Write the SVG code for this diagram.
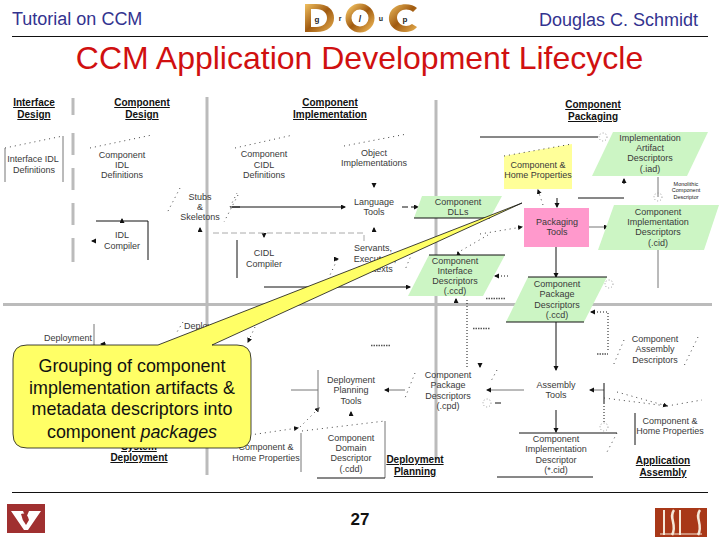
<svg xmlns="http://www.w3.org/2000/svg" width="720" height="540" viewBox="0 0 720 540">
<defs>
<style>
text{font-family:"Liberation Sans",Arial,sans-serif}
.n{font-size:9px;fill:#3a3a3a;text-anchor:middle}
.h{font-size:10px;font-weight:bold;fill:#111;text-anchor:middle;text-decoration:underline}
.g{fill:#ccf5c4;stroke:none}
.k{stroke:#111;stroke-width:1;fill:none}
.lg{stroke:#777;stroke-width:1;fill:none}
.d{stroke:#444;stroke-width:1;stroke-dasharray:1 4;fill:none}
.dk{stroke:#111;stroke-width:1;stroke-dasharray:1 2;fill:none}
.sep{stroke:#bbb;stroke-width:3;fill:none}
.c{stroke:#999;stroke-width:1;stroke-dasharray:1 2;fill:none}
.sm{stroke:#555;stroke-width:1.500;stroke-dasharray:1.500 1;fill:none}
</style>
<linearGradient id="gold" x1="0" y1="0" x2="1" y2="1">
<stop offset="0" stop-color="#f0c060"/><stop offset=".5" stop-color="#a05a10"/><stop offset="1" stop-color="#e8b050"/>
</linearGradient>
<marker id="a" markerWidth="6" markerHeight="6" refX="4" refY="2.500" orient="auto"><path d="M0 0L5 2.500L0 5z" fill="#111"/></marker>
</defs>
<rect width="720" height="540" fill="#fff"/>
<g id="header">
<text x="12" y="25" font-size="18" fill="#33338f">Tutorial on CCM</text>
<text x="698" y="26" font-size="18" fill="#33338f" text-anchor="end">Douglas C. Schmidt</text>
<path d="M12 36.500H708" stroke="#111" stroke-width="1"/>
<text x="359.500" y="69" font-size="32" fill="#d01010" text-anchor="middle">CCM Application Development Lifecycle</text>
</g>
<g id="logo">
<path d="M305 4H316C328 4 334 10 334 18C334 26 328 32 316 32H305Z" fill="url(#gold)"/>
<path d="M311 9H316C323 9 327 13 327 18C327 23 323 27 316 27H311Z" fill="#fff"/>
<circle cx="360" cy="18" r="11.500" fill="none" stroke="url(#gold)" stroke-width="6"/>
<path d="M417 8C412 3 397 2 391 11C386 19 390 31 404 32C410 32 415 30 417 27L412 24C407 28 398 26 397 18C397 10 407 7 413 12Z" fill="url(#gold)"/>
<text x="317" y="22" font-size="8" font-weight="bold" fill="#222" text-anchor="middle">g</text>
<text x="340" y="21" font-size="7" font-weight="bold" fill="#222" text-anchor="middle">r</text>
<text x="360" y="22" font-size="9" font-weight="bold" fill="#222" text-anchor="middle">/</text>
<text x="381" y="21" font-size="7" font-weight="bold" fill="#222" text-anchor="middle">u</text>
<text x="405" y="22" font-size="8" font-weight="bold" fill="#222" text-anchor="middle">p</text>
</g>
<g id="dividers">
<path class="sep" d="M73 98V115M73 133V155M73 168V190M73 203V225M73 238V262"/>
<path class="sep" d="M207 97V475"/>
<path class="sep" d="M436 100V460"/>
<path class="sep" d="M3 304.500H712"/>
</g>
<g id="connectors">
<path class="k" d="M230 207H345" marker-end="url(#a)"/>
<path class="k" d="M232 207H240"/>
<path class="k" stroke-dasharray="6 3" d="M402 207H418" marker-end="url(#a)"/>
<path class="k" d="M264 287H410" marker-end="url(#a)"/>
<path class="k" d="M480 137H598"/>
<path class="k" d="M578 198H624"/>
<path class="k" d="M557 198V207" marker-end="url(#a)"/>
<path class="k" d="M624 184V179" marker-end="url(#a)"/>
<path class="lg" d="M658 177V197M658 250V288"/>
<path class="lg" d="M589 227H608" marker-end="url(#a)"/>
<path class="d" d="M480 234L522 227" marker-end="url(#a)"/>
<path class="d" d="M543 205L538 190" marker-end="url(#a)"/>
<path class="d" d="M457 253L488 235"/>
<path class="k" d="M459 258L458 252" marker-end="url(#a)"/>
<path class="dk" d="M508 276H495" marker-end="url(#a)"/>
<path class="k" d="M556 247V277" marker-end="url(#a)"/>
<path class="k" d="M556 322V370" marker-end="url(#a)"/>
<path class="dk" d="M608 350V312H591" marker-end="url(#a)"/>
<path class="dk" d="M467 300V368"/>
<path class="k" d="M456 303V299" marker-end="url(#a)"/>
<path class="k" d="M480 363V367" marker-end="url(#a)"/>
<path class="k" d="M556 410V432" marker-end="url(#a)"/>
<path class="lg" d="M524 390H487" marker-end="url(#a)"/>
<path class="lg" d="M604 390H590" marker-end="url(#a)"/>
<path class="k" d="M604 383V403"/>
<path class="dk" d="M604 403V423"/>
<path class="d" d="M604 398L667 406"/>
<path class="d" d="M617 392L667 406" marker-end="url(#a)"/>
<path class="d" d="M667 406L702 400"/>
<path class="k" d="M495 403H501"/>
<path class="lg" d="M405 390H385" marker-end="url(#a)"/>
<path class="lg" d="M291 390H318"/>
<path class="d" d="M300 427L319 408" marker-end="url(#a)"/>
<path class="d" d="M250 435L298 428" marker-end="url(#a)"/>
<path class="d" d="M255 327L248 342" marker-end="url(#a)"/>
<path class="d" d="M183 322L177 332"/>
<path class="k" d="M351 415V412" marker-end="url(#a)"/>
<path class="k" d="M122 221V219" marker-end="url(#a)"/>
<path class="k" d="M96 241H92" marker-end="url(#a)"/>
<path class="k" d="M200 231V228" marker-end="url(#a)"/>
<path class="k" d="M264 233V237" marker-end="url(#a)"/>
<path class="k" d="M374 183V187" marker-end="url(#a)"/>
<path class="k" d="M374 232V228" marker-end="url(#a)"/>
<path class="k" d="M335 259H338" marker-end="url(#a)"/>
<path class="d" d="M337 260L330 275M412 253L405 270M230 207L237 193"/>
<path class="k" d="M96 221H148V260"/>
<path class="k" d="M237 240V278"/>
<path stroke="#aaa" stroke-dasharray="6 3" fill="none" d="M213 233H364V242"/>
<path class="k" d="M106 344H101" marker-end="url(#a)"/>
<circle class="c" cx="603" cy="137" r="4"/><circle class="c" cx="658" cy="197" r="4"/><circle class="c" cx="609" cy="284" r="4"/><circle class="c" cx="487" cy="403" r="4"/><circle class="c" cx="604" cy="427" r="4"/>
</g>
<g id="interface-design"><text class="h" x="34" y="106">Interface</text><text class="h" x="34" y="118">Design</text></g>
<g id="component-design"><text class="h" x="142" y="106">Component</text><text class="h" x="142" y="118">Design</text></g>
<g id="component-impl"><text class="h" x="330" y="106">Component</text><text class="h" x="330" y="118">Implementation</text></g>
<g id="component-packaging"><text class="h" x="593" y="108">Component</text><text class="h" x="593" y="120">Packaging</text></g>
<g id="interface-idl">
<path class="d" d="M5 148L63 136"/><path class="lg" d="M5 148V182M63 136V182"/>
<text class="n" x="33" y="162">Interface IDL</text><text class="n" x="34" y="173">Definitions</text>
</g>
<g id="component-idl">
<path class="d" d="M90 148L152 135"/>
<text class="n" x="122" y="158">Component</text><text class="n" x="122" y="168">IDL</text><text class="n" x="122" y="178">Definitions</text>
</g>
<g id="stubs">
<path class="d" d="M180 188L167 213M238 195L224 222"/>
<text class="n" x="200" y="200">Stubs</text><text class="n" x="200" y="210">&amp;</text><text class="n" x="200" y="220">Skeletons</text>
</g>
<g id="idl-compiler">
<text class="n" x="122" y="238">IDL</text><text class="n" x="122" y="249">Compiler</text>
</g>
<g id="component-cidl">
<path class="d" d="M235 148L293 135"/>
<text class="n" x="264" y="157">Component</text><text class="n" x="264" y="168">CIDL</text><text class="n" x="264" y="178">Definitions</text>
</g>
<g id="object-impl">
<path class="d" d="M344 146L407 134"/>
<text class="n" x="374" y="156">Object</text><text class="n" x="374" y="166">Implementations</text>
</g>
<g id="language-tools"><text class="n" x="374" y="205">Language</text><text class="n" x="374" y="215">Tools</text></g>
<g id="cidl-compiler"><text class="n" x="264" y="256">CIDL</text><text class="n" x="264" y="267">Compiler</text></g>
<g id="servants"><text class="n" x="373" y="251">Servants,</text><text class="n" x="375" y="262">Executors,</text><text class="n" x="375" y="272">Contexts</text></g>
<g id="component-dlls">
<polygon class="g" points="422,196 502,196 490,218 414,218"/><path class="k" d="M414 218H490"/>
<text class="n" x="458" y="205">Component</text><text class="n" x="458" y="215">DLLs</text>
</g>
<g id="component-interface">
<polygon class="g" points="429,255 505,255 483,296 408,296"/><path class="k" d="M429 255H505"/>
<text class="n" x="455" y="264">Component</text><text class="n" x="455" y="274">Interface</text><text class="n" x="455" y="284">Descriptors</text><text class="n" x="455" y="294">(.ccd)</text>
</g>
<g id="impl-artifact">
<polygon class="g" points="613,132 708,132 687,176 592,176"/>
<text class="n" x="650" y="141">Implementation</text><text class="n" x="650" y="151">Artifact</text><text class="n" x="650" y="161">Descriptors</text><text class="n" x="650" y="172">(.iad)</text>
</g>
<g id="home-props">
<polygon points="504,156 572,144 572,189 504,189" fill="#ffff99"/>
<path class="d" d="M504 156L572 144"/>
<text class="n" x="538" y="168">Component &amp;</text><text class="n" x="538" y="178">Home Properties</text>
</g>
<g id="monolithic"><text x="686" y="186" font-size="5.500" fill="#222" text-anchor="middle">Monolithic</text><text x="686" y="192" font-size="5.500" fill="#222" text-anchor="middle">Component</text><text x="686" y="199" font-size="5.500" fill="#222" text-anchor="middle">Descriptor</text></g>
<g id="packaging-tools">
<rect x="524" y="208" width="65" height="39" fill="#ff99cc"/>
<text class="n" x="557" y="225">Packaging</text><text class="n" x="557" y="235">Tools</text>
</g>
<g id="component-impl-desc">
<polygon class="g" points="614,205 719,205 704,250 598,250"/>
<text class="n" x="658" y="215">Component</text><text class="n" x="658" y="225">Implementation</text><text class="n" x="658" y="235">Descriptors</text><text class="n" x="658" y="246">(.cid)</text>
</g>
<g id="package-desc">
<polygon class="g" points="528,277 607,277 584,322 506,322"/><path class="k" d="M528 277H607M506 322H584"/>
<text class="n" x="557" y="287">Component</text><text class="n" x="557" y="297">Package</text><text class="n" x="557" y="308">Descriptors</text><text class="n" x="557" y="318">(.ccd)</text>
</g>
<g id="assembly-desc">
<path class="d" d="M624 340L613 366M698 337L683 368"/>
<text class="n" x="655" y="342">Component</text><text class="n" x="655" y="352">Assembly</text><text class="n" x="655" y="363">Descriptors</text>
</g>
<g id="assembly-tools"><text class="n" x="556" y="388">Assembly</text><text class="n" x="556" y="398">Tools</text></g>
<g id="package-desc-2">
<path class="d" d="M415 373L405 398M497 370L490 383"/>
<text class="n" x="448" y="378">Component</text><text class="n" x="448" y="388">Package</text><text class="n" x="448" y="399">Descriptors</text><text class="n" x="448" y="409">(.cpd)</text>
</g>
<g id="home-props-2">
<path class="k" d="M635 413V445"/>
<text class="n" x="670" y="424">Component &amp;</text><text class="n" x="670" y="434">Home Properties</text>
</g>
<g id="impl-desc-2">
<path class="k" d="M519 433H617M497 477H593"/>
<path class="d" d="M617 433L607 452"/>
<text class="n" x="556" y="442">Component</text><text class="n" x="556" y="452">Implementation</text><text class="n" x="556" y="463">Descriptor</text><text class="n" x="556" y="473">(*.cid)</text>
</g>
<g id="deploy-planning-tools">
<path class="lg" d="M318 370V412"/>
<text class="n" x="351" y="383">Deployment</text><text class="n" x="351" y="393">Planning</text><text class="n" x="351" y="404">Tools</text>
</g>
<g id="domain-desc">
<path class="d" d="M302 431L385 421"/><path class="lg" d="M385 421V478"/><path class="k" d="M317 478H385"/><path class="lg" d="M301 433V472"/>
<text class="n" x="351" y="441">Component</text><text class="n" x="351" y="451">Domain</text><text class="n" x="351" y="461">Descriptor</text><text class="n" x="351" y="472">(.cdd)</text>
</g>
<g id="home-props-3"><text class="n" x="266" y="450">Component &amp;</text><text class="n" x="266" y="461">Home Properties</text></g>
<g id="deployment-left"><text class="n" x="68" y="341">Deployment</text><path class="lg" d="M94 324V345"/></g>
<g id="deployment-right"><text class="n" x="208" y="329">Deployment</text></g>
<g id="system-deployment"><text class="h" x="139" y="450">System</text><text class="h" x="139" y="461">Deployment</text></g>
<g id="deployment-planning"><text class="h" x="415" y="463">Deployment</text><text class="h" x="415" y="475">Planning</text></g>
<g id="application-assembly"><text class="h" x="663" y="464">Application</text><text class="h" x="663" y="476">Assembly</text></g>
<g id="small-marks">
<path class="sm" d="M486 298.500H505M473 328.500H490M597 354H608M371 345.500H390"/>
</g>
<g id="callout">
<path d="M27 345H158L522 203L212 345H237Q251 345 251 359V434Q251 448 237 448H27Q13 448 13 434V359Q13 345 27 345Z" fill="#ffff66" stroke="#111" stroke-width="0.800"/>
<text x="132" y="372" font-size="17.900" fill="#111" text-anchor="middle">Grouping of component</text>
<text x="132" y="394" font-size="17.900" fill="#111" text-anchor="middle">implementation artifacts &amp;</text>
<text x="132" y="415" font-size="17.900" fill="#111" text-anchor="middle">metadata descriptors into</text>
<text x="132" y="438" font-size="17.900" fill="#111" text-anchor="middle">component <tspan font-style="italic">packages</tspan></text>
</g>
<g id="footer">
<path d="M12 492.500H708" stroke="#111" stroke-width="1"/>
<text x="360" y="525" font-size="17" font-weight="bold" fill="#111" text-anchor="middle">27</text>
<rect x="7" y="504" width="38" height="29" fill="#a03030"/>
<path d="M11 511H23L26 518L29 511H41L28 530H24Z" fill="#fff"/>
<path d="M21 514Q27 512 29 520L26 525Q22 520 21 514Z" fill="#a03030"/>
<rect x="655" y="508" width="52" height="29" fill="#a83818"/>
<path d="M664 510V535M680 510V535" stroke="#f5e8d8" stroke-width="2" fill="none"/>
<path d="M674 510C668 518 678 525 672 535M700 510C694 518 704 525 698 535" stroke="#f5e8d8" stroke-width="2.500" fill="none"/>
<path d="M660 534H702" stroke="#f5e8d8" stroke-width="1"/>
</g>
</svg>
